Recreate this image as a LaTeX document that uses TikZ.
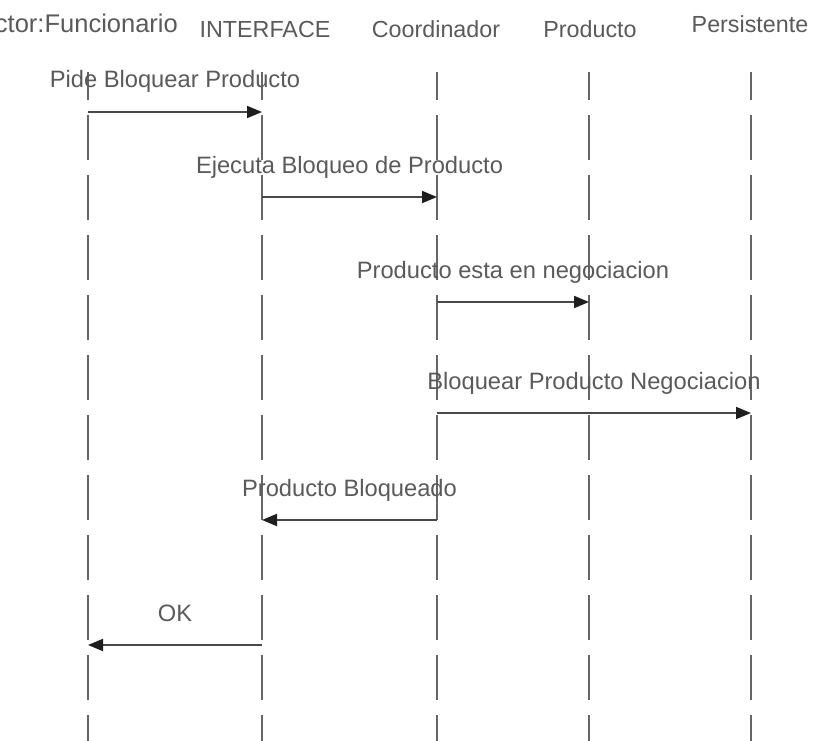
\documentclass[tikz,border=0pt]{standalone}
\usepackage{fontspec}
\setmainfont{Liberation Sans}
\usetikzlibrary{arrows.meta}
\definecolor{txtgray}{HTML}{5A5A5A}
\definecolor{lifegray}{HTML}{666666}
\definecolor{msggray}{HTML}{484848}
\definecolor{tipblack}{HTML}{1E1E1E}
\begin{document}
\begin{tikzpicture}[x=1pt,y=-1pt,
  head/.style={anchor=base, inner sep=0pt, text=txtgray, font=\fontsize{23.3}{28}\selectfont},
  lbl/.style={anchor=base, inner sep=0pt, text=txtgray, font=\fontsize{23.7}{28}\selectfont, yshift=24pt},
  life/.style={draw=lifegray, line width=1.8pt, dash pattern=on 45pt off 15pt, dash phase=17pt},
  msg/.style={draw=msggray, line width=1.8pt, -{Triangle[length=15pt,width=12pt,color=tipblack]}}]
\clip (0,0) rectangle (816,741);
\fill[white] (0,0) rectangle (816,741);

% object heads
\node[head, anchor=base east, font=\fontsize{25.5}{30}\selectfont] (hF) at (178,33) {Actor:Funcionario};
\node[head] (hI) at (265,38) {INTERFACE};
\node[head] (hC) at (436,38) {Coordinador};
\node[head] (hP) at (590,38) {Producto};
\node[head] (hS) at (750,33) {Persistente};

% lifeline ends
\coordinate (tF) at (88,72);  \coordinate (bF) at (88,745);
\coordinate (tI) at (262,72); \coordinate (bI) at (262,745);
\coordinate (tC) at (437,72); \coordinate (bC) at (437,745);
\coordinate (tP) at (589,72); \coordinate (bP) at (589,745);
\coordinate (tS) at (751,72); \coordinate (bS) at (751,745);

\draw[life] (tF) -- (bF);
\draw[life] (tI) -- (bI);
\draw[life] (tC) -- (bC);
\draw[life] (tP) -- (bP);
\draw[life] (tS) -- (bS);

% message end points
\coordinate (m1a) at (88,112);  \coordinate (m1b) at (262,112);
\coordinate (m2a) at (262,197); \coordinate (m2b) at (437,197);
\coordinate (m3a) at (437,302); \coordinate (m3b) at (589,302);
\coordinate (m4a) at (437,413); \coordinate (m4b) at (751,413);
\coordinate (m5a) at (437,520); \coordinate (m5b) at (262,520);
\coordinate (m6a) at (262,645); \coordinate (m6b) at (88,645);

% messages
\draw[msg] (m1a) -- node[lbl] (l1) {Pide Bloquear Producto} (m1b);
\draw[msg] (m2a) -- node[lbl] (l2) {Ejecuta Bloqueo de Producto} (m2b);
\draw[msg] (m3a) -- node[lbl] (l3) {Producto esta en negociacion} (m3b);
\draw[msg] (m4a) -- node[lbl] (l4) {Bloquear Producto Negociacion} (m4b);
\draw[msg] (m5a) -- node[lbl] (l5) {Producto Bloqueado} (m5b);
\draw[msg] (m6a) -- node[lbl] (l6) {OK} (m6b);
\end{tikzpicture}
\end{document}
